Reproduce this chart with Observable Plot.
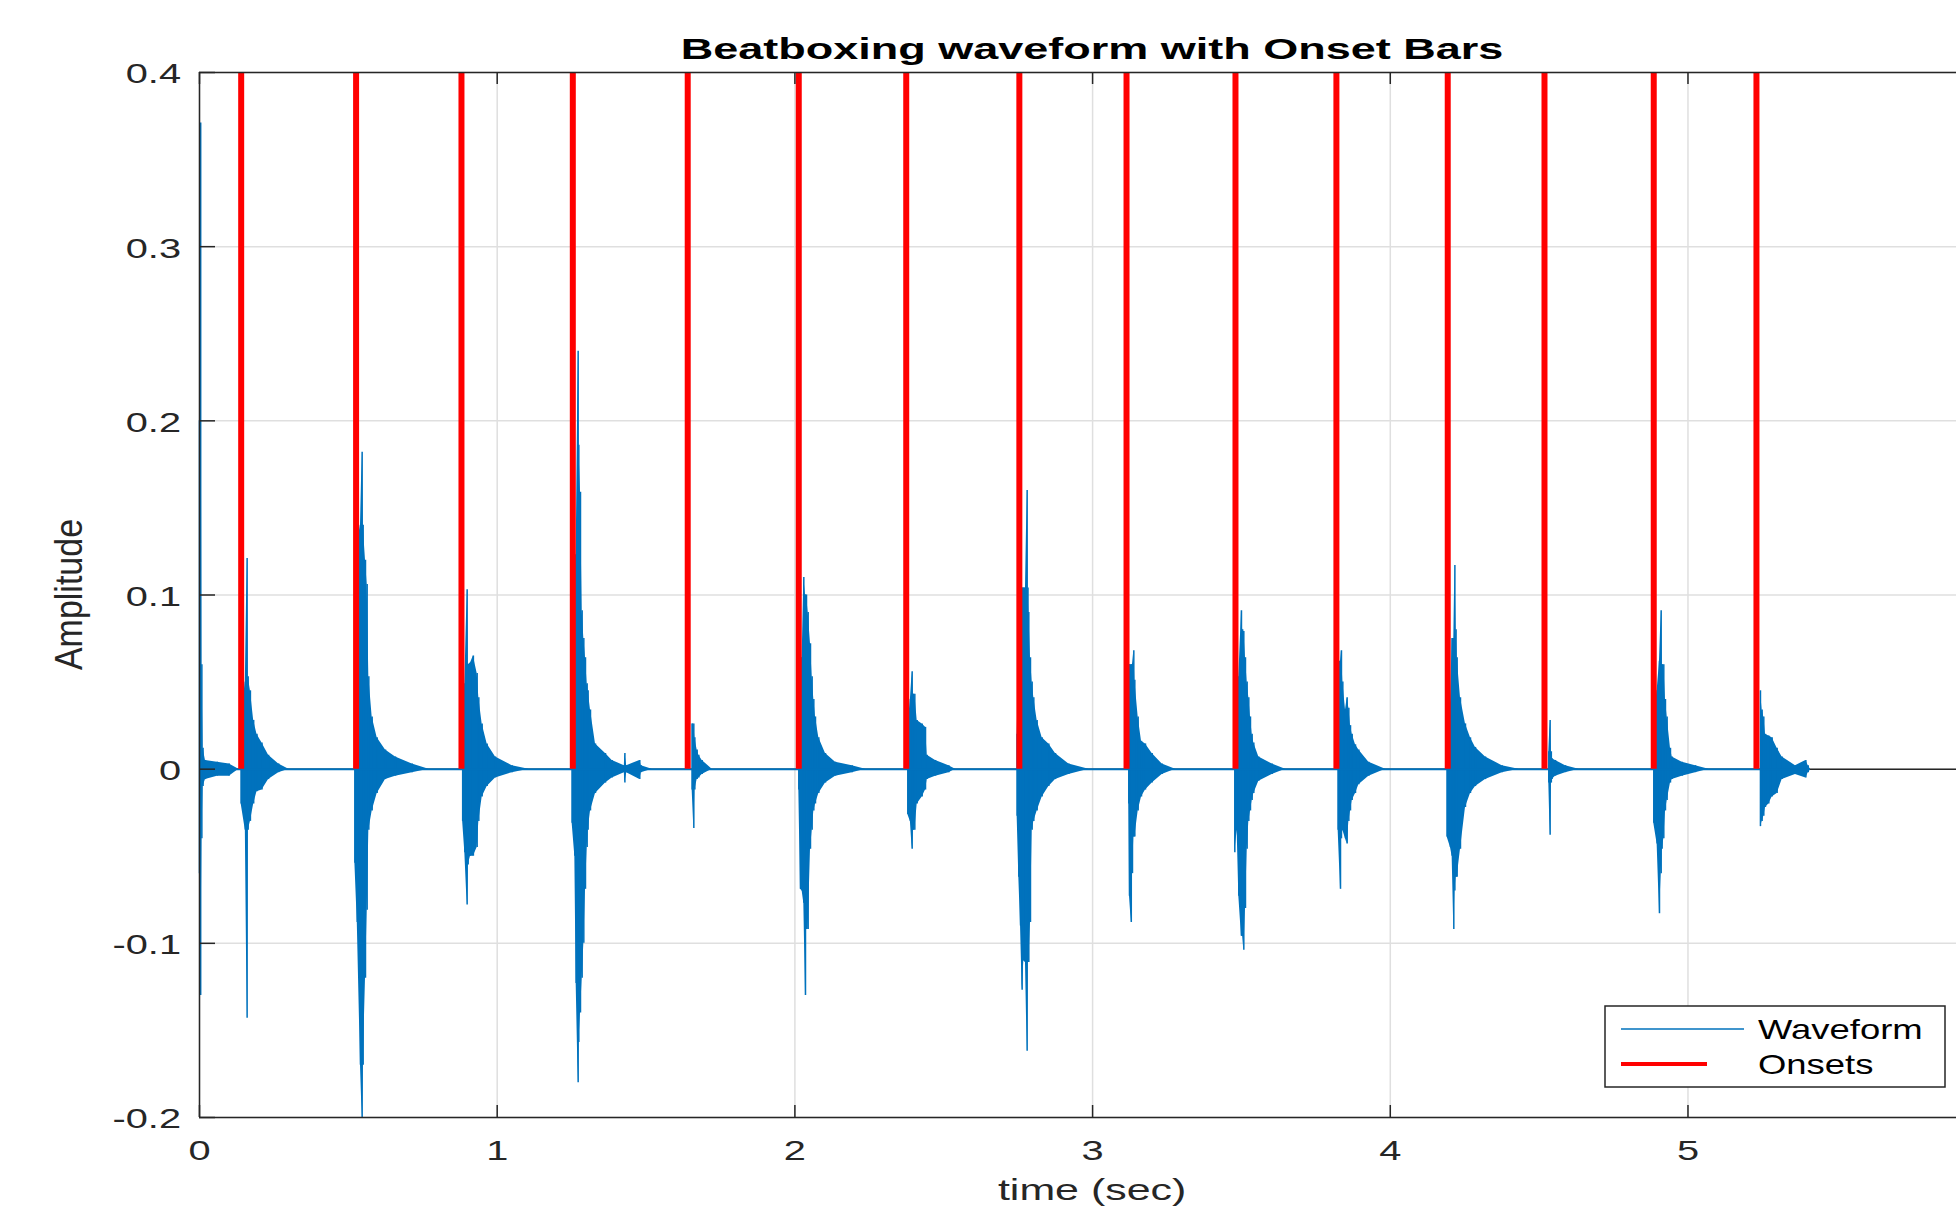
<!DOCTYPE html>
<html>
<head>
<meta charset="utf-8">
<script src="https://cdn.jsdelivr.net/npm/d3@7"></script>
<script src="https://cdn.jsdelivr.net/npm/@observablehq/plot@0.6"></script>
<style>
  html, body { margin: 0; padding: 0; background: #fff; overflow: hidden; }
  #chart { position: relative; width: 1956px; height: 1213px; }
  #chart svg { display: block; }
</style>
</head>
<body>
<div id="chart"></div>
<script>
// ---------------- data ----------------
const onsetTimes = [0.140, 0.526, 0.880, 1.254, 1.640, 2.013, 2.374, 2.754, 3.114, 3.480, 3.819, 4.193, 4.518, 4.885, 5.230];

// waveform envelope: [time (s), upper amplitude, lower amplitude]; each burst ends with a 0,0 row
const envelope = [
  // initial click
  [0.000, 0.20, -0.06], [0.004, 0.371, -0.130], [0.008, 0.06, -0.04], [0.012, 0.012, -0.010],
  [0.020, 0.005, -0.006], [0.060, 0.004, -0.004], [0.100, 0.003, -0.004], [0.132, 0, 0],
  // hit 1
  [0.140, 0.03, -0.02], [0.154, 0.05, -0.035], [0.160, 0.121, -0.143], [0.1635, 0.053, -0.035],
  [0.171, 0.045, -0.03], [0.182, 0.028, -0.02], [0.193, 0.02, -0.013], [0.210, 0.015, -0.012],
  [0.232, 0.008, -0.006], [0.266, 0.003, -0.002], [0.300, 0, 0],
  // hit 2
  [0.522, 0.06, -0.054], [0.530, 0.13, -0.088], [0.5408, 0.14, -0.17], [0.5464, 0.182, -0.2],
  [0.5498, 0.14, -0.17], [0.5576, 0.12, -0.12], [0.5632, 0.106, -0.081], [0.5688, 0.053, -0.035],
  [0.580, 0.03, -0.024], [0.5968, 0.018, -0.014], [0.6248, 0.011, -0.006], [0.6584, 0.007, -0.004],
  [0.7144, 0.003, -0.002], [0.7704, 0, 0],
  // hit 3
  [0.884, 0.03, -0.03], [0.8913, 0.049, -0.048], [0.8991, 0.103, -0.078], [0.9025, 0.06, -0.055],
  [0.9103, 0.061, -0.05], [0.920, 0.065, -0.05], [0.9327, 0.055, -0.045], [0.9383, 0.041, -0.03],
  [0.9495, 0.026, -0.016], [0.9663, 0.0145, -0.01], [0.9943, 0.007, -0.005], [1.0503, 0.002, -0.002],
  [1.1063, 0, 0],
  // hit 4
  [1.2518, 0.05, -0.031], [1.2608, 0.123, -0.05], [1.2653, 0.123, -0.123], [1.2720, 0.240, -0.18],
  [1.2742, 0.186, -0.157], [1.2798, 0.159, -0.14], [1.2854, 0.091, -0.12], [1.2910, 0.075, -0.10],
  [1.2966, 0.064, -0.069], [1.3022, 0.049, -0.045], [1.3055, 0.045, -0.035], [1.3134, 0.034, -0.024],
  [1.3302, 0.0145, -0.014], [1.3638, 0.009, -0.008], [1.3862, 0.005, -0.005], [1.4270, 0.002, -0.002],
  [1.4290, 0.009, -0.008], [1.4350, 0.002, -0.002], [1.4790, 0.005, -0.006], [1.4840, 0.002, -0.002],
  [1.5205, 0, 0],
  // hit 5
  [1.6549, 0.026, -0.012], [1.6605, 0.026, -0.034], [1.6640, 0.018, -0.012], [1.6717, 0.011, -0.006],
  [1.6773, 0.008, -0.005], [1.6885, 0.005, -0.003], [1.7221, 0, 0],
  // hit 6
  [2.0132, 0.02, -0.012], [2.0188, 0.064, -0.069], [2.0244, 0.064, -0.07], [2.0300, 0.11, -0.077],
  [2.0356, 0.10, -0.13], [2.0390, 0.10, -0.092], [2.0446, 0.09, -0.092], [2.0524, 0.072, -0.046],
  [2.0580, 0.053, -0.035], [2.0636, 0.04, -0.024], [2.0692, 0.03, -0.02], [2.0804, 0.018, -0.014],
  [2.1028, 0.009, -0.008], [2.1364, 0.004, -0.004], [2.1924, 0.002, -0.002], [2.2372, 0, 0],
  // hit 7
  [2.3794, 0.024, -0.026], [2.3880, 0.04, -0.03], [2.3940, 0.056, -0.046], [2.3975, 0.043, -0.035],
  [2.4029, 0.043, -0.035], [2.4108, 0.028, -0.02], [2.4276, 0.026, -0.016], [2.4388, 0.024, -0.012],
  [2.4444, 0.008, -0.006], [2.4724, 0.005, -0.004], [2.5172, 0.002, -0.002], [2.5396, 0, 0],
  // hit 8
  [2.7466, 0.02, -0.027], [2.7522, 0.06, -0.062], [2.7580, 0.104, -0.09], [2.7634, 0.104, -0.127],
  [2.7690, 0.104, -0.11], [2.7746, 0.104, -0.111], [2.7802, 0.160, -0.162], [2.7830, 0.104, -0.111],
  [2.7858, 0.09, -0.111], [2.7914, 0.064, -0.088], [2.7970, 0.05, -0.035], [2.8026, 0.041, -0.03],
  [2.8138, 0.028, -0.024], [2.8306, 0.018, -0.016], [2.8530, 0.0145, -0.01], [2.8754, 0.009, -0.006],
  [2.9202, 0.003, -0.003], [2.9874, 0, 0],
  // hit 9
  [3.1217, 0.03, -0.02], [3.1240, 0.060, -0.073], [3.1300, 0.06, -0.088], [3.1340, 0.06, -0.06],
  [3.1385, 0.068, -0.039], [3.1419, 0.051, -0.039], [3.1531, 0.030, -0.024], [3.1643, 0.016, -0.016],
  [3.1777, 0.0145, -0.012], [3.2001, 0.009, -0.008], [3.2337, 0.003, -0.003], [3.2785, 0, 0],
  // hit 10
  [3.4778, 0.03, -0.048], [3.4856, 0.04, -0.035], [3.4912, 0.053, -0.073], [3.5001, 0.091, -0.096],
  [3.5040, 0.08, -0.096], [3.5080, 0.079, -0.104], [3.5136, 0.064, -0.08], [3.5192, 0.05, -0.046],
  [3.5248, 0.041, -0.03], [3.5304, 0.03, -0.024], [3.5360, 0.020, -0.018], [3.5416, 0.015, -0.014],
  [3.5584, 0.007, -0.007], [3.6032, 0.003, -0.003], [3.6480, 0, 0],
  // hit 11
  [3.8249, 0.062, -0.035], [3.8328, 0.062, -0.069], [3.8360, 0.068, -0.04], [3.8406, 0.05, -0.035],
  [3.8496, 0.034, -0.04], [3.8552, 0.041, -0.043], [3.8608, 0.035, -0.03], [3.8664, 0.025, -0.024],
  [3.8720, 0.02, -0.018], [3.8832, 0.014, -0.014], [3.8944, 0.011, -0.009], [3.9280, 0.004, -0.004],
  [3.9840, 0, 0],
  // hit 12
  [4.1910, 0.03, -0.039], [4.2022, 0.037, -0.045], [4.2078, 0.075, -0.05], [4.2134, 0.075, -0.092],
  [4.2170, 0.117, -0.07], [4.2210, 0.08, -0.062], [4.2246, 0.064, -0.062], [4.2358, 0.041, -0.046],
  [4.2526, 0.026, -0.022], [4.2694, 0.018, -0.014], [4.2862, 0.0125, -0.01], [4.3198, 0.007, -0.006],
  [4.3758, 0.002, -0.002], [4.4318, 0, 0],
  // hit 13
  [4.5325, 0.01, -0.008], [4.5370, 0.028, -0.038], [4.5410, 0.01, -0.008], [4.5437, 0.006, -0.006],
  [4.5549, 0.005, -0.004], [4.5885, 0.002, -0.002], [4.6333, 0, 0],
  // hit 14
  [4.8852, 0.03, -0.031], [4.8964, 0.045, -0.043], [4.9043, 0.062, -0.083], [4.9100, 0.091, -0.06],
  [4.9132, 0.06, -0.046], [4.9188, 0.060, -0.04], [4.9244, 0.04, -0.024], [4.9300, 0.030, -0.018],
  [4.9412, 0.012, -0.008], [4.9468, 0.007, -0.006], [4.9804, 0.004, -0.004], [5.0252, 0.002, -0.002],
  [5.0700, 0, 0],
  // hit 15
  [5.2435, 0.045, -0.033], [5.2491, 0.034, -0.03], [5.2547, 0.03, -0.027], [5.2603, 0.020, -0.022],
  [5.2715, 0.019, -0.02], [5.2827, 0.018, -0.016], [5.2995, 0.012, -0.014], [5.3163, 0.007, -0.006],
  [5.3611, 0.002, -0.003], [5.3960, 0.005, -0.005], [5.4040, 0.002, -0.002], [5.4115, 0, 0]
];

const xTicks = [0, 1, 2, 3, 4, 5];
const xTickLabels = ["0", "1", "2", "3", "4", "5"];
const yTicks = [-0.2, -0.1, 0, 0.1, 0.2, 0.3, 0.4];
const yTickLabels = ["-0.2", "-0.1", "0", "0.1", "0.2", "0.3", "0.4"];
const xDomain = [0, 5.902];      // visible part of the 0..6 axis
const xFullLimit = 6;
const yDomain = [-0.2, 0.4];
const titleText = "Beatboxing waveform with Onset Bars";
const xLabelText = "time (sec)";
const yLabelText = "Amplitude";
const legendLabels = ["Waveform", "Onsets"];

// ---------------- styling / layout ----------------
const W = 1956, H = 1213;
const mL = 199, mT = 72, mB = 96, mR = 0;
const innerW = W - mL - mR, innerH = H - mT - mB;
const axisColor = "#262626", gridColor = "#dfdfdf";
const waveColor = "#0072bd", onsetColor = "#ff0000";
const font = "'Liberation Sans', Arial, Helvetica, sans-serif";

// split the envelope into bursts (a 0,0 row closes a burst)
let burst = 0;
const wave = envelope.map(([t, hi, lo]) => {
  const row = {t, hi, lo, burst};
  if (hi === 0 && lo === 0) burst++;
  return row;
});
const waveEnd = envelope[envelope.length - 1][0];

const svg = Plot.plot({
  width: W, height: H,
  marginLeft: mL, marginTop: mT, marginBottom: mB, marginRight: mR,
  style: {fontFamily: font, background: "#fff", color: axisColor, overflow: "visible"},
  x: {domain: xDomain, label: null},
  y: {domain: yDomain, label: null},
  marks: [
    Plot.gridX(xTicks, {stroke: gridColor, strokeOpacity: 1, strokeWidth: 1.5}),
    Plot.gridY(yTicks, {stroke: gridColor, strokeOpacity: 1, strokeWidth: 1.5}),
    Plot.ruleY([0], {stroke: axisColor, strokeWidth: 1.5}),
    Plot.areaY(wave, {x: "t", y1: "lo", y2: "hi", z: "burst", curve: "linear", fill: waveColor}),
    Plot.ruleX(wave, {x: "t", y1: "lo", y2: "hi", stroke: waveColor, strokeWidth: 1.5}),
    Plot.ruleY([0], {x1: xDomain[0], x2: waveEnd, stroke: waveColor, strokeWidth: 2}),
    Plot.ruleX(onsetTimes, {y1: 0, y2: yDomain[1], stroke: onsetColor, strokeWidth: 6}),
    Plot.ruleX([xDomain[0]], {stroke: axisColor, strokeWidth: 1.5}),
    Plot.ruleY([yDomain[0], yDomain[1]], {stroke: axisColor, strokeWidth: 1.5}),
    Plot.ruleX(xTicks, {insetTop: innerH - 12, stroke: axisColor, strokeWidth: 1.5}),
    Plot.ruleX(xTicks, {insetBottom: innerH - 12, stroke: axisColor, strokeWidth: 1.5}),
    Plot.ruleY(yTicks, {insetRight: innerW - 16, stroke: axisColor, strokeWidth: 1.5}),
    Plot.axisX(xTicks, {tickSize: 0, tickPadding: 23, fontSize: 28, label: null,
      tickFormat: d => xTickLabels[xTicks.indexOf(d)]}),
    Plot.axisY(yTicks, {tickSize: 0, tickPadding: 18.5, fontSize: 28, label: null, dy: 2,
      tickFormat: d => yTickLabels[yTicks.indexOf(d)]})
  ]
});

// stretch tick labels horizontally as in the reference picture
d3.select(svg).selectAll('g[aria-label="x-axis tick label"] text, g[aria-label="y-axis tick label"] text')
  .each(function () {
    const t = this.getAttribute("transform") || "";
    this.setAttribute("transform", t + " scale(1.42,1)");
  });

const sx = svg.scale("x"), sy = svg.scale("y");
const s = d3.select(svg);
const cx = sx.apply(xFullLimit / 2);

// title
s.append("text")
  .attr("transform", `translate(${cx},59) scale(1.5,1)`)
  .attr("text-anchor", "middle").attr("font-family", font)
  .attr("font-weight", "bold").attr("font-size", 30).attr("fill", "#000")
  .text(titleText);

// x label
s.append("text")
  .attr("transform", `translate(${cx},1200) scale(1.48,1)`)
  .attr("text-anchor", "middle").attr("font-family", font)
  .attr("font-size", 29).attr("fill", axisColor)
  .text(xLabelText);

// y label
const cy = (sy.apply(yDomain[0]) + sy.apply(yDomain[1])) / 2;
s.append("text")
  .attr("transform", `translate(82,${cy}) rotate(-90) scale(1,1.15)`)
  .attr("text-anchor", "middle").attr("font-family", font)
  .attr("font-size", 34).attr("fill", axisColor)
  .text(yLabelText);

// legend
const lg = s.append("g");
lg.append("rect").attr("x", 1605).attr("y", 1006).attr("width", 340).attr("height", 81)
  .attr("fill", "#fff").attr("stroke", axisColor).attr("stroke-width", 1.5);
lg.append("line").attr("x1", 1621).attr("x2", 1744).attr("y1", 1029).attr("y2", 1029)
  .attr("stroke", waveColor).attr("stroke-width", 1.5);
lg.append("line").attr("x1", 1621).attr("x2", 1707).attr("y1", 1064).attr("y2", 1064)
  .attr("stroke", onsetColor).attr("stroke-width", 4);
[[legendLabels[0], 1039], [legendLabels[1], 1074]].forEach(([txt, by]) => {
  lg.append("text")
    .attr("transform", `translate(1758,${by}) scale(1.35,1)`)
    .attr("text-anchor", "start")
    .attr("font-family", font).attr("font-size", 27).attr("fill", "#000")
    .text(txt);
});

document.getElementById("chart").appendChild(svg);
</script>
</body>
</html>
